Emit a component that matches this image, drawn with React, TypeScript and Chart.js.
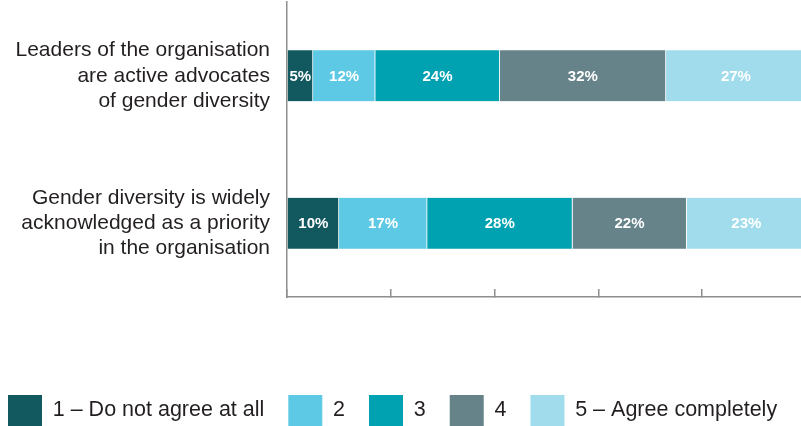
import React, { useEffect, useRef } from 'react';
import { Chart, registerables } from 'chart.js';

Chart.register(...registerables);

const categories: string[][] = [
  ['Leaders of the organisation', 'are active advocates', 'of gender diversity'],
  ['Gender diversity is widely', 'acknowledged as a priority', 'in the organisation'],
];
const seriesNames = ['1 – Do not agree at all', '2', '3', '4', '5 – Agree completely'];
const rating1 = [5, 10];
const rating2 = [12, 17];
const rating3 = [24, 28];
const rating4 = [32, 22];
const rating5 = [27, 23];
const seriesValues = [rating1, rating2, rating3, rating4, rating5];
const seriesColors = ['#12585f', '#5ec9e5', '#00a1b1', '#668389', '#a1dcec'];
const xMin = 0;
const xMax = 100;
const xStep = 20;

const FAMILY = '"Liberation Sans", Arial, Helvetica, sans-serif';
const AXIS = '#8e8e8e';
const TEXT = '#231f20';

const segmentLabels = {
  id: 'segmentLabels',
  afterDatasetsDraw(chart: any) {
    const ctx = chart.ctx;
    ctx.save();
    ctx.font = `bold 15px ${FAMILY}`;
    ctx.fillStyle = '#ffffff';
    ctx.textAlign = 'center';
    ctx.textBaseline = 'middle';
    chart.data.datasets.forEach((ds: any, i: number) => {
      const meta = chart.getDatasetMeta(i);
      meta.data.forEach((bar: any, j: number) => {
        const { x, y, base } = bar.getProps(['x', 'y', 'base'], true);
        ctx.fillText(`${ds.data[j]}%`, (x + base) / 2, y + 1);
      });
    });
    ctx.restore();
  },
};

export default function App() {
  const ref = useRef<HTMLCanvasElement | null>(null);

  useEffect(() => {
    if (!ref.current) return;
    const chart = new Chart(ref.current, {
      type: 'bar',
      data: {
        labels: categories,
        datasets: seriesNames.map((name, i) => ({
          label: name,
          data: seriesValues[i],
          backgroundColor: seriesColors[i],
          borderColor: '#ffffff',
          borderWidth: { top: 0, bottom: 0, left: 0, right: 1 },
          borderSkipped: false,
          barThickness: 51,
        })),
      },
      options: {
        indexAxis: 'y',
        animation: false,
        responsive: false,
        devicePixelRatio: 1,
        layout: { padding: { top: 2, left: 0, right: 0, bottom: 0 } },
        font: { family: FAMILY },
        plugins: {
          tooltip: { enabled: false },
          legend: {
            position: 'bottom',
            align: 'start',
            labels: {
              boxWidth: 34,
              boxHeight: 31,
              padding: 24,
              color: TEXT,
              font: { size: 21.5, family: FAMILY },
              generateLabels: (c: any) => {
                const items = (Chart as any).defaults.plugins.legend.labels.generateLabels(c);
                items.forEach((it: any) => {
                  it.lineWidth = 0;
                  it.strokeStyle = 'rgba(0,0,0,0)';
                });
                return items;
              },
            },
          },
        },
        scales: {
          x: {
            stacked: true,
            min: xMin,
            max: xMax,
            ticks: { display: false, stepSize: xStep },
            grid: {
              display: true,
              drawOnChartArea: false,
              drawTicks: true,
              tickLength: -8,
              color: AXIS,
              lineWidth: 1.5,
            },
            border: { display: true, color: AXIS, width: 1.5 },
            afterFit: (s: any) => {
              s.height = 74;
              s.paddingLeft = 0;
              s.paddingRight = 0;
            },
          },
          y: {
            stacked: true,
            grid: { display: false, drawTicks: false },
            border: { display: true, color: AXIS, width: 1.5 },
            ticks: {
              color: TEXT,
              padding: 17,
              font: { size: 21, family: FAMILY, lineHeight: 1.2 },
            },
            afterFit: (s: any) => {
              s.width = 303;
              s.paddingTop = 0;
              s.paddingBottom = 0;
            },
          },
        },
      } as any,
      plugins: [segmentLabels],
    });
    return () => chart.destroy();
  }, []);

  return (
    <div
      style={{
        position: 'absolute',
        left: 0,
        top: 0,
        width: 801,
        height: 426,
        overflow: 'hidden',
        background: '#ffffff',
      }}
    >
      <canvas
        ref={ref}
        width={822}
        height={436}
        style={{ position: 'absolute', left: -16, top: 0, width: 822, height: 436 }}
      />
    </div>
  );
}
